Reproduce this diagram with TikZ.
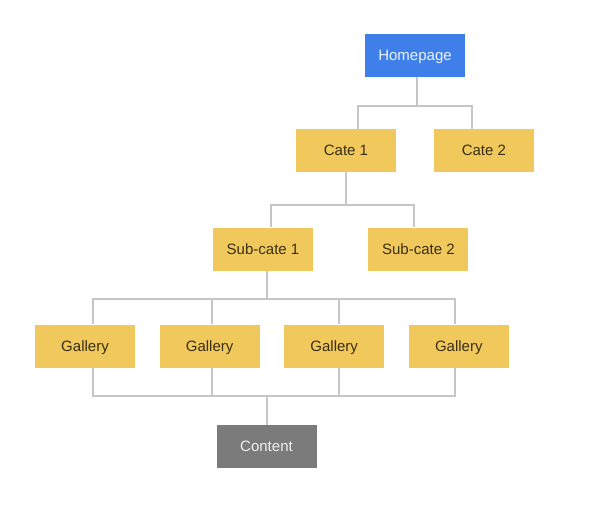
\documentclass[tikz,border=0pt]{standalone}
\usepackage{fontspec}
\setmainfont{Liberation Sans}
\usetikzlibrary{%
    calc,
    positioning
}
\definecolor{pageblue}{HTML}{3F7FE9}
\definecolor{cateyellow}{HTML}{F0C85C}
\definecolor{contentgray}{HTML}{7B7B7B}
\definecolor{linegray}{HTML}{C6C6C6}
\definecolor{labelbrown}{HTML}{3A2F14}
\tikzset{
    box/.style = {minimum width=100pt, minimum height=43pt, inner sep=0pt,
                  text height=10.7pt, text depth=0pt,
                  font=\fontsize{15}{18}\selectfont},
    homebox/.style = {box, fill=pageblue, text=white!90!pageblue},
    catebox/.style = {box, fill=cateyellow, text=labelbrown},
    contentbox/.style = {box, fill=contentgray, text=white!88!contentgray},
    link/.style = {draw=linegray, line width=2pt}
}

\begin{document}
\begin{tikzpicture}[x=1pt,y=-1pt]
    \useasboundingbox (0,0) rectangle (596,512);

    \node[homebox] (home) at (415,55.5) {Homepage};
    \node[catebox] (cate1) at (346,150.5) {Cate 1};
    \node[catebox] (cate2) [right=37.5pt of cate1] {Cate 2};
    \node[catebox] (sub1) at (263,249) {Sub-cate 1};
    \node[catebox] (sub2) [right=55pt of sub1] {Sub-cate 2};
    \node[catebox] (gal1) at (85,346) {Gallery};
    \foreach \x [remember=\x as \lastx (initially 1)] in {2,3,4}
        \node[catebox] (gal\x) [right=24.2pt of gal\lastx] {Gallery};
    \node[contentbox] (content) at (266.5,446.5) {Content};

    % bus points
    \coordinate (bus1) at (416.5,106);
    \coordinate (bus2) at (346,205);
    \coordinate (bus3) at (266.5,299);
    \coordinate (bus4) at (266.5,396);

    \draw[link] ([xshift=1.5pt]home.south) -- (bus1);
    \draw[link] ([xshift=12pt]cate1.north) |- (bus1) -| ([xshift=-12pt]cate2.north);
    \draw[link] (cate1) -- (bus2);
    \draw[link] ([xshift=8pt]sub1.north) |- (bus2) -| ([xshift=-4.5pt]sub2.north);
    \draw[link] ([xshift=3.5pt]sub1.south) -- (bus3);
    \foreach \g/\s in {1/7.5, 2/2.5, 3/5, 4/-3.5}
        {
        \draw[link] ([xshift=\s pt]gal\g.north) |- (bus3);
        \draw[link] ([xshift=\s pt]gal\g.south) |- (bus4);
        }
    \draw[link] (bus4) -- (content);
\end{tikzpicture}
\end{document}
